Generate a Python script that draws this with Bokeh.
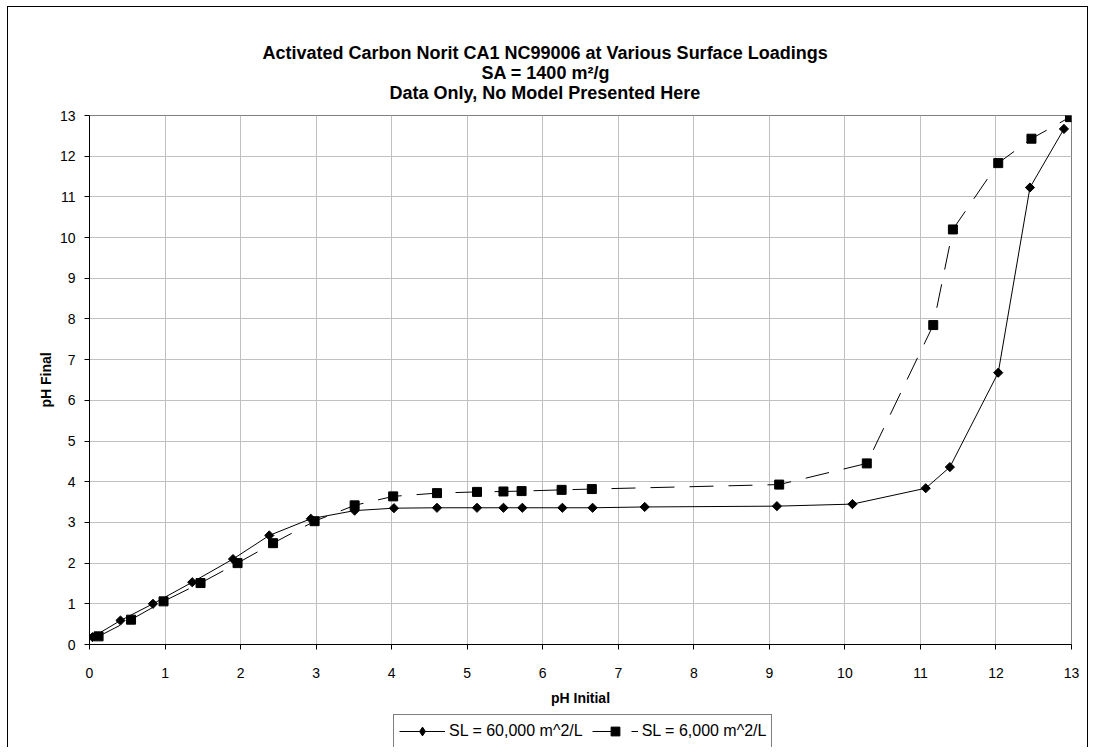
import numpy as np
from bokeh.plotting import figure
from bokeh.layouts import column
from bokeh.models import Legend, LegendItem, Range1d, FixedTicker, Title
from bokeh.embed import file_html
from bokeh.resources import INLINE

# ---- data ----
ph_initial_sl60000 = [0.04, 0.41, 0.84, 1.36, 1.90, 2.38, 2.93, 3.51, 4.03, 4.60, 5.13,
                      5.48, 5.73, 6.26, 6.66, 7.35, 9.10, 10.10, 11.07, 11.39, 12.03,
                      12.45, 12.90]
ph_final_sl60000 = [0.18, 0.59, 1.00, 1.53, 2.10, 2.68, 3.09, 3.29, 3.35, 3.36, 3.36,
                    3.36, 3.36, 3.36, 3.36, 3.38, 3.40, 3.45, 3.84, 4.36, 6.68,
                    11.23, 12.67]

ph_initial_sl6000 = [0.12, 0.55, 0.98, 1.47, 1.96, 2.43, 2.98, 3.51, 4.02, 4.60, 5.13,
                     5.48, 5.72, 6.25, 6.65, 9.13, 10.29, 11.17, 11.43, 12.03, 12.47,
                     12.98]
ph_final_sl6000 = [0.20, 0.61, 1.06, 1.51, 2.00, 2.49, 3.03, 3.42, 3.64, 3.72, 3.75,
                   3.76, 3.77, 3.80, 3.82, 3.93, 4.45, 7.85, 10.20, 11.83, 12.43,
                   12.96]

x_ticks = list(range(0, 14))
y_ticks = list(range(0, 14))

title_lines = ["Activated Carbon Norit CA1 NC99006 at Various Surface Loadings",
               "SA = 1400 m\u00b2/g",
               "Data Only, No Model Presented Here"]
series_labels = ["SL = 60,000 m^2/L", "SL = 6,000 m^2/L"]

FONT = "Liberation Sans"
DASH = "24 15"

p = figure(frame_width=982, frame_height=529, output_backend="svg",
           toolbar_location=None,
           x_range=Range1d(0, 13), y_range=Range1d(0, 13),
           min_border_left=81, min_border_right=16, min_border_top=108,
           min_border_bottom=64,
           background_fill_color="white", border_fill_color="white")

p.outline_line_color = "#808080"
p.outline_line_width = 1

p.xaxis.ticker = FixedTicker(ticks=x_ticks)
p.yaxis.ticker = FixedTicker(ticks=y_ticks)
for ax in (p.xaxis[0], p.yaxis[0]):
    ax.axis_line_color = "black"
    ax.axis_line_width = 1
    ax.major_tick_line_color = "black"
    ax.major_tick_out = 5
    ax.major_tick_in = 0
    ax.minor_tick_line_color = None
    ax.major_label_text_font = FONT
    ax.major_label_text_font_size = "14px"
    ax.major_label_text_color = "black"
    ax.axis_label_text_font = FONT
    ax.axis_label_text_font_size = "14px"
    ax.axis_label_text_font_style = "bold"
    ax.axis_label_text_color = "black"

p.xaxis.axis_label = "pH Initial"
p.yaxis.axis_label = "pH Final"
p.xaxis.major_label_standoff = 18
p.yaxis.major_label_standoff = 9
p.xaxis.axis_label_standoff = 9
p.yaxis.axis_label_standoff = 3

p.xgrid.grid_line_color = "#c0c0c0"
p.ygrid.grid_line_color = "#c0c0c0"
p.xgrid.ticker = FixedTicker(ticks=x_ticks)
p.ygrid.ticker = FixedTicker(ticks=y_ticks)

# series 1: solid line + diamonds
p.line(ph_initial_sl60000, ph_final_sl60000, line_color="black", line_width=1)
p.scatter(ph_initial_sl60000, ph_final_sl60000, marker="square", angle=np.pi / 4,
          size=6.5, fill_color="black", line_color="black")
# series 2: long dashed line + squares
p.line(ph_initial_sl6000, ph_final_sl6000, line_color="black", line_width=1,
       line_dash=DASH)
p.scatter(ph_initial_sl6000, ph_final_sl6000, marker="square",
          size=9, fill_color="black", line_color="black")

# title block: a spacer next to the frame, then lines 3, 2, 1 going upward
p.add_layout(Title(text=" ", text_font_size="1px", standoff=11), "above")
for txt in reversed(title_lines):
    p.add_layout(Title(text=txt, align="center", text_font=FONT, text_font_size="18px",
                       text_font_style="bold", text_color="black", standoff=-2),
                 "above")
title_offsets = [173, 392, 300]
for t, off in zip(p.above[-1:-4:-1], title_offsets):
    t.align = "left"
    t.offset = off

# ---- legend, in its own small figure below the chart ----
# (its borders match the chart's so the column aligns the frames)
lf = figure(width=81 + 386 + 16, height=33, output_backend="svg",
            toolbar_location=None, x_axis_type=None, y_axis_type=None,
            x_range=Range1d(10, 11), y_range=Range1d(10, 11),
            min_border_left=81, min_border_right=16, min_border_top=0,
            min_border_bottom=0,
            background_fill_color="white", border_fill_color="white")
lf.outline_line_color = None
lf.margin = (6, 0, 0, 304)
# legend keys: one point each, outside the legend figure's ranges
key_x = [series_labels.index(series_labels[0])]
key_y = [0]
k1l = lf.line(x=key_x, y=key_y, line_color="black", line_width=1)
k1m = lf.scatter(x=key_x, y=key_y, marker="diamond", fill_color="black",
                 line_color="black")
k2l = lf.line(x=key_x, y=key_y, line_color="black", line_width=1, line_dash=DASH)
k2m = lf.scatter(x=key_x, y=key_y, marker="square", fill_color="black",
                 line_color="black")

legend = Legend(items=[LegendItem(label=series_labels[0], renderers=[k1l, k1m]),
                       LegendItem(label=series_labels[1], renderers=[k2l, k2m])],
                orientation="horizontal", location="top_left")
legend.label_text_font = FONT
legend.label_text_font_size = "16px"
legend.label_text_color = "black"
legend.glyph_width = 46
legend.glyph_height = 22
legend.label_standoff = 4
legend.spacing = 9
legend.padding = 5
legend.margin = 0
legend.border_line_color = "black"
legend.border_line_width = 1
legend.background_fill_color = "white"
legend.background_fill_alpha = 1
lf.add_layout(legend)

page = column(p, lf)
page.styles = {"margin-left": "7px", "margin-top": "6px",
               "border-left": "1px solid black", "border-top": "1px solid black",
               "border-right": "1px solid black"}

open("out.html", "w").write(file_html(page, INLINE))
